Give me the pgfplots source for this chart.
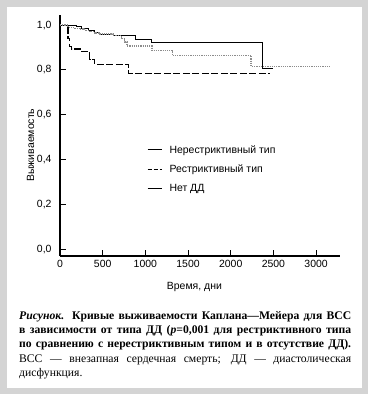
\documentclass[border=0pt]{standalone}
\usepackage{fontspec}
\setmainfont{Liberation Sans}
\newfontfamily\capfont{Liberation Serif}
\usepackage{pgfplots}
\pgfplotsset{compat=1.18}
\definecolor{frame}{RGB}{212,212,212}
\definecolor{dotgray}{RGB}{140,140,140}
\begin{document}
\begin{tikzpicture}[x=1bp,y=1bp]
\fill[frame] (0,0) rectangle (368,394);
\fill[white] (7,6) rectangle (362,387);
\begin{axis}[
  at={(60bp,138bp)}, anchor=south west,
  scale only axis, width=280bp, height=241bp,
  xmin=0, xmax=3280, ymin=-0.031, ymax=1.045,
  axis lines*=left,
  axis line style={line width=1.6bp},
  tick style={line width=1bp, black},
  tick align=inside, major tick length=6bp,
  xtick={500,1000,...,3000},
  extra x ticks={0}, extra x tick style={major tick length=0pt},
  ytick={0,0.2,...,1.0},
  yticklabel={\pgfmathprintnumber[fixed,fixed zerofill,precision=1,use comma]{\tick}},
  /pgf/number format/assume math mode=true,
  /pgf/number format/1000 sep={},
  tick label style={font=\fontsize{10.5}{12}\selectfont},
  yticklabel style={xshift=-5bp},
  xticklabel style={yshift=-1bp},
  xlabel={Время, дни},
  ylabel={Выживаемость},
  label style={font=\fontsize{10.5}{12}\selectfont},
  xlabel style={at={(axis description cs:0.48,-0.095)}, anchor=north},
  ylabel style={at={(axis description cs:-0.105,0.46)}, anchor=center},
  legend style={at={(axis description cs:0.31,0.46)}, anchor=north west,
    draw=none, fill=none, font=\fontsize{10.5}{12}\selectfont,
    row sep=10bp, inner sep=0pt, nodes={inner sep=0pt}},
  legend cell align=left,
  clip=false,
]
\addplot[black, line width=1.1bp, const plot mark left, forget plot] coordinates {
(0,1.0) (195,0.993) (250,0.985) (330,0.975) (400,0.965) (464,0.958)
(628,0.952) (886,0.936) (1076,0.922) (2375,0.806) (2492,0.806)};
\addplot[black, line width=1.1bp, dash pattern=on 7bp off 2.5bp, const plot mark left, forget plot] coordinates {
(0,1.0) (94,0.94) (113,0.905) (135,0.893) (242,0.882) (347,0.848)
(406,0.825) (804,0.785) (2462,0.785)};
\addplot[dotgray, line width=1.3bp, dash pattern=on 1.2bp off 1bp, const plot mark left, forget plot] coordinates {
(0,1.0) (94,0.99) (160,0.986) (230,0.982) (290,0.976) (347,0.971) (410,0.965)
(464,0.96) (620,0.953) (718,0.94) (757,0.925) (784,0.907) (1076,0.888)
(1315,0.865) (2239,0.816) (3155,0.816)};
\addlegendimage{legend image code/.code={\draw[black,line width=1bp] (0,0) -- (14bp,0); \path[draw=none,fill=none] (0,0) -- (22bp,0);}}
\addlegendentry{Нерестриктивный тип}
\addlegendimage{legend image code/.code={\draw[black,line width=1bp,dash pattern=on 4bp off 2bp] (0,0) -- (14bp,0); \path[draw=none,fill=none] (0,0) -- (22bp,0);}}
\addlegendentry{Рестриктивный тип}
\addlegendimage{legend image code/.code={\draw[black,line width=1bp] (0,0) -- (14bp,0); \path[draw=none,fill=none] (0,0) -- (22bp,0);}}
\addlegendentry{Нет ДД}
\end{axis}
\node[anchor=north west, inner sep=0pt, text width=332bp, align=justify,
  font=\capfont\fontsize{11.7}{14.4}\selectfont] at (19,83) {%
{\bfseries\parfillskip=0pt\textit{Рисунок.} Кривые выживаемости Каплана—Мейера для ВСС\linebreak
в зависимости от типа ДД (\textit{p}=0,001 для рестриктивного типа\linebreak
по сравнению с нерестриктивным типом и в отсутствие ДД).\par}
ВСС — внезапная сердечная смерть; ДД — диастолическая\linebreak
дисфункция.};
\end{tikzpicture}
\end{document}
